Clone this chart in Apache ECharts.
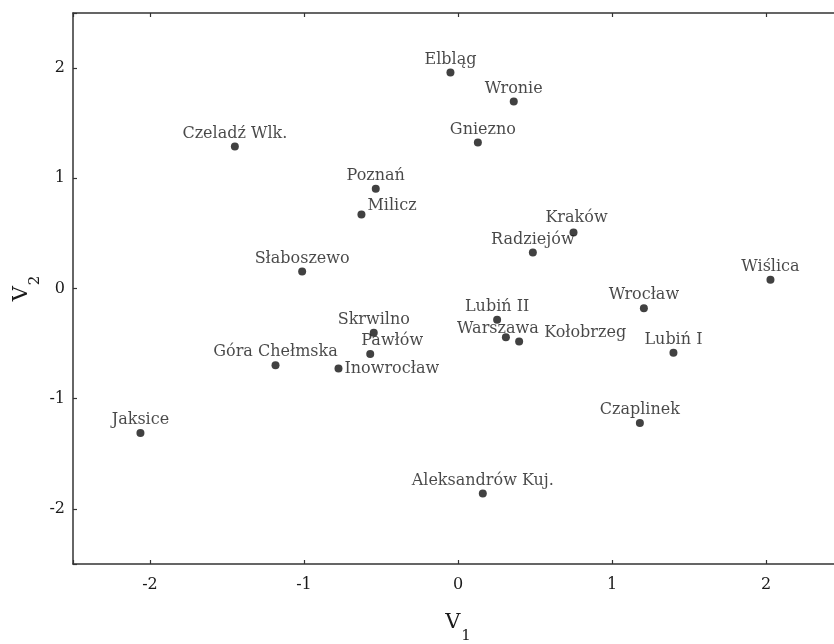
<!DOCTYPE html>
<html>
<head>
<meta charset="utf-8">
<script src="https://cdn.jsdelivr.net/npm/echarts@6/dist/echarts.min.js"></script>
<style>
html,body{margin:0;padding:0;background:#fff;}
#c{width:834px;height:644px;}
</style>
</head>
<body>
<div id="c"></div>
<script>
// ---- data ----
const names = ["Czeladź Wlk.","Jaksice","Elbląg","Wronie","Gniezno","Poznań","Milicz","Kraków","Radziejów","Słaboszewo","Wiślica","Wrocław","Lubiń I","Czaplinek","Aleksandrów Kuj.","Skrwilno","Pawłów","Inowrocław","Góra Chełmska","Lubiń II","Warszawa","Kołobrzeg"];
const v1 = [-1.449,-2.062,-0.049,0.362,0.129,-0.534,-0.627,0.750,0.486,-1.012,2.029,1.207,1.399,1.181,0.161,-0.547,-0.570,-0.776,-1.185,0.254,0.311,0.397];
const v2 = [1.289,-1.311,1.960,1.697,1.325,0.905,0.672,0.509,0.327,0.155,0.080,-0.180,-0.582,-1.220,-1.861,-0.401,-0.594,-0.727,-0.697,-0.283,-0.443,-0.480];
const xTicks = [-2,-1,0,1,2];
const yTicks = [-2,-1,0,1,2];

// ---- label placement (style only) ----
const labelTweaks = {
  "Milicz": {position:'right', distance:2, offset:[0,-9]},
  "Inowrocław": {position:'right', distance:2, offset:[0,0]},
  "Kołobrzeg": {position:'right', distance:21, offset:[0,-9]},
  "Warszawa": {position:'top', distance:1, offset:[-8,5]},
  "Pawłów": {position:'top', distance:1, offset:[22,0]},
  "Kraków": {position:'top', distance:1, offset:[3,-2]},
  "Gniezno": {position:'top', distance:1, offset:[5,0]}
};

const FONT = "DejaVu Serif";
const AX = "#333";
const TXT = "#1a1a1a";

const data = names.map((n,i)=>{
  const d = {name:n, value:[v1[i], v2[i]]};
  if (labelTweaks[n]) d.label = labelTweaks[n];
  return d;
});

function intLabel(list){
  return function(v){
    const n = Number(v);
    const r = Math.round(n);
    return (Math.abs(n - r) < 1e-6 && list.indexOf(r) >= 0) ? String(r) : '';
  };
}

const chart = echarts.init(document.getElementById('c'), null, {renderer:'canvas'});
const axisCommon = {
  type:'value', min:-2.5, max:2.5, splitNumber:5,
  splitLine:{show:false},
  axisLine:{show:true, onZero:false, lineStyle:{color:AX, width:1.5}},
  axisTick:{show:true, inside:true, length:4, lineStyle:{color:AX, width:1.2}}
};
chart.setOption({
  animation:false,
  backgroundColor:'#fff',
  grid:{left:73, top:13, width:770, height:551, containLabel:false, outerBoundsMode:'none'},
  xAxis:[
    Object.assign({}, axisCommon, {
      position:'bottom',
      axisLabel:{show:true, margin:13, fontFamily:FONT, fontSize:16, color:TXT, formatter:intLabel(xTicks)},
      name:'{v|V}{s|1}', nameLocation:'middle', nameGap:37,
      nameTextStyle:{rich:{
        v:{fontFamily:FONT, fontSize:21, color:TXT},
        s:{fontFamily:FONT, fontSize:15, color:TXT, padding:[28,0,0,1]}
      }}
    }),
    Object.assign({}, axisCommon, {position:'top', axisLabel:{show:false}})
  ],
  yAxis:[
    Object.assign({}, axisCommon, {
      position:'left',
      axisLabel:{show:true, margin:8, fontFamily:FONT, fontSize:16, color:TXT, formatter:intLabel(yTicks)},
      name:'{v|V}{s|2}', nameLocation:'middle', nameGap:30, nameRotate:90, nameMoveOverlap:false,
      nameTextStyle:{rich:{
        v:{fontFamily:FONT, fontSize:21, color:TXT},
        s:{fontFamily:FONT, fontSize:15, color:TXT, padding:[28,0,0,1]}
      }}
    }),
    Object.assign({}, axisCommon, {position:'right', axisLabel:{show:false}})
  ],
  series:[{
    type:'scatter',
    xAxisIndex:0, yAxisIndex:0,
    symbol:'circle', symbolSize:8,
    itemStyle:{color:'#111'},
    label:{show:true, position:'top', distance:1, formatter:'{b}', fontFamily:FONT, fontSize:16, color:TXT},
    data:data
  }]
});
</script>
</body>
</html>
